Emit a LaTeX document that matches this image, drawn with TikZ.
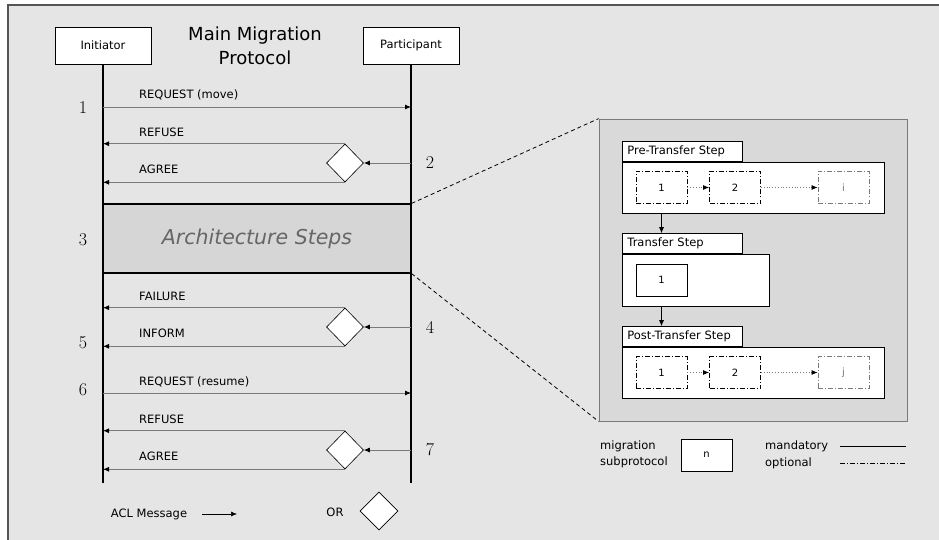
\documentclass[tikz,border=0pt]{standalone}
\usepackage{fontspec}
\setsansfont{DejaVu Sans}
\usetikzlibrary{arrows.meta}
\usetikzlibrary{shapes.geometric}
\usetikzlibrary{positioning}
\definecolor{bggray}{HTML}{E5E5E5}
\definecolor{framegray}{HTML}{555555}
\definecolor{archgray}{HTML}{D6D6D6}
\definecolor{archtext}{HTML}{666666}
\definecolor{panelgray}{HTML}{D9D9D9}
\definecolor{msggray}{HTML}{7A7A7A}
\tikzset{lbl/.style = {font=\sffamily\fontsize{11.5}{16}\selectfont, inner sep=0}}
\tikzset{actor/.style = {draw, fill=white, line width=0.8pt, minimum width=96pt,
                         minimum height=37pt, font=\sffamily\fontsize{11.5}{14}\selectfont}}
\tikzset{headline/.style = {font=\sffamily\fontsize{18}{24}\selectfont, align=center}}
\tikzset{num/.style = {font=\fontsize{18}{18}\selectfont, inner sep=0}}
\tikzset{life/.style = {line width=1.3pt}}
\tikzset{msg/.style = {msggray, line width=0.8pt,
                       -{Latex[color=black, length=6pt, width=5pt]}}}
\tikzset{choice/.style = {diamond, draw, fill=white, line width=0.6pt, inner sep=0,
                          minimum width=37pt, minimum height=38pt}}
\tikzset{arch/.style = {draw, fill=archgray, line width=1.2pt, minimum width=308pt,
                        minimum height=69pt, text=archtext,
                        font=\sffamily\itshape\fontsize{20.5}{24}\selectfont}}
\tikzset{zoomline/.style = {dashed, line width=0.8pt, dash pattern=on 4pt off 3pt}}
\tikzset{panel/.style = {draw=msggray, fill=panelgray, line width=0.8pt,
                         minimum width=308pt, minimum height=302pt}}
\tikzset{stepbody/.style = {draw, fill=white, line width=0.8pt, anchor=north west, inner sep=0}}
\tikzset{steptab/.style = {draw, fill=white, line width=0.8pt, anchor=south west,
                           text width=110pt, inner xsep=5pt, align=left, minimum height=20pt,
                           font=\sffamily\fontsize{11.5}{14}\selectfont}}
\tikzset{subbox/.style = {draw, fill=white, line width=0.8pt, minimum width=51pt,
                          minimum height=32pt, font=\sffamily\fontsize{10}{12}\selectfont}}
\tikzset{optbox/.style = {subbox, dash pattern=on 5pt off 2pt on 1pt off 2pt}}
\tikzset{optfaint/.style = {optbox, draw=msggray, text=msggray}}
\tikzset{optflow/.style = {msggray, line width=0.8pt, dotted,
                           -{Latex[color=black, length=6pt, width=5pt]}}}
\tikzset{flow/.style = {line width=0.8pt, -{Latex[length=6pt, width=5pt]}}}

\begin{document}
\begin{tikzpicture}[x=1pt, y=-1pt]
  \useasboundingbox (0,0) rectangle (939,540);
  \fill[white] (0,0) rectangle (939,540);
  \fill[bggray] (8,5) rectangle (939,540);
  \draw[framegray, line width=1.5pt] (8,540) -- (8,5) -- (939,5);

  % sequence part
  \node[actor] (init) at (103,45.5) {Initiator};
  \node[actor] (part) at (411,45.5) {Participant};
  \node[headline] (head) at (255,46) {Main Migration\\Protocol};
  \coordinate (initend) at (103,483);
  \coordinate (partend) at (411,483);
  \draw[life] (init) -- (initend);
  \draw[life] (part) -- (partend);

  \foreach \n/\y/\txt in {1/107/REQUEST (move), 6/393/REQUEST (resume)} {
    \coordinate (snd\n) at (103,\y);
    \coordinate (rcv\n) at (411,\y);
    \draw[msg] (snd\n) -- (rcv\n);
    \node[lbl, anchor=base west] (lab\n) at (139,\y-8) {\txt};
  }
  \foreach \n/\y/\up/\down in {2/163/REFUSE/AGREE, 4/327/FAILURE/INFORM, 7/450/REFUSE/AGREE} {
    \node[choice] (or\n) at (345,\y) {};
    \draw[msg] (or\n.east -| part) -- (or\n.east);
    \draw[msg] (or\n.north) -- (or\n.north -| init);
    \draw[msg] (or\n.south) -- (or\n.south -| init);
    \node[lbl, anchor=base west] (up\n) at (139,\y-26.5) {\up};
    \node[lbl, anchor=base west] (down\n) at (139,\y+10.5) {\down};
  }
  \foreach \n/\x/\y in {1/83/108, 2/430/163, 3/83/240, 4/430/327, 5/83/343, 6/83/390, 7/430/450}
    \node[num] (num\n) at (\x,\y) {\n};

  \node[arch] (arch) at (257,238.5) {Architecture Steps};

  % zoomed steps
  \node[panel] (panel) at (753,270) {};
  \draw[zoomline] (arch.north east) -- (panel.north west);
  \draw[zoomline] (arch.south east) -- (panel.south west);

  \node[stepbody, minimum width=262pt, minimum height=51pt] (prebody) at (622,162) {};
  \node[steptab] (pretab) at (prebody.north west) {Pre-Transfer Step};
  \node[stepbody, minimum width=147pt, minimum height=52pt] (transbody) at (622,254) {};
  \node[steptab] (transtab) at (transbody.north west) {Transfer Step};
  \node[stepbody, minimum width=262pt, minimum height=51pt] (postbody) at (622,347) {};
  \node[steptab] (posttab) at (postbody.north west) {Post-Transfer Step};

  \foreach \s/\y/\k in {pre/187.5/i, post/372.5/j} {
    \node[optbox] (\s1) at (661.5,\y) {1};
    \node[optbox] (\s2) at (735,\y) {2};
    \node[optfaint] (\s\k) at (843.5,\y) {\k};
    \draw[optflow] (\s1) -- (\s2);
    \draw[optflow] (\s2) -- (\s\k);
  }
  \node[subbox] (trans1) at (661.5,280) {1};
  \draw[flow] (prebody.south -| trans1) -- (transtab.north -| trans1);
  \draw[flow] (transbody.south -| trans1) -- (posttab.north -| trans1);

  % legend
  \node[lbl] (acl) at (149,514) {ACL Message};
  \coordinate (aclfrom) at (202,514);
  \coordinate (aclto) at (237,514);
  \draw[flow, line width=0.6pt] (aclfrom) -- (aclto);
  \node[lbl] (orlbl) at (335,512) {OR};
  \node[choice, minimum width=38pt, minimum height=38pt] (orkey) at (379,511) {};

  \node[lbl, anchor=west, align=left] (subkey) at (600,454) {migration\\subprotocol};
  \node[subbox] (nkey) at (706.5,455) {n};
  \node[lbl, anchor=west] (mandkey) at (765,446) {mandatory};
  \node[lbl, anchor=west] (optkey) at (765,463) {optional};
  \coordinate (mandfrom) at (840,446);
  \coordinate (mandto) at (906,446);
  \coordinate (optfrom) at (840,463);
  \coordinate (optto) at (906,463);
  \draw[line width=0.6pt] (mandfrom) -- (mandto);
  \draw[line width=0.6pt, dash pattern=on 5pt off 2pt on 1pt off 2pt] (optfrom) -- (optto);
\end{tikzpicture}
\end{document}
